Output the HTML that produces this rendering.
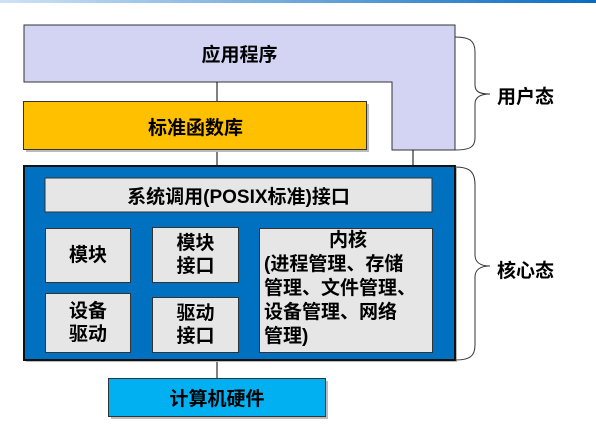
<!DOCTYPE html>
<html><head><meta charset="utf-8"><style>
body{margin:0;width:596px;height:435px;background:#fff;position:relative;overflow:hidden;font-family:"Liberation Sans","Noto Sans CJK SC",sans-serif;font-weight:bold;color:#000}
.b{position:absolute;box-sizing:border-box;display:flex;align-items:center;justify-content:center;text-align:center}
.g{background:#e6e6e6;border:1px solid #333;font-size:19px;line-height:23px}
</style></head><body>
<div style="position:absolute;left:0;top:0;width:596px;height:3px;background:linear-gradient(90deg,#cfe3f5,#0a6cc0)"></div>
<svg width="596" height="435" style="position:absolute;left:0;top:0">
<path d="M24 25H455V150H392V82H24Z" fill="#d3d3f3" stroke="#333" stroke-width="1"/>
<line x1="217" y1="82" x2="217" y2="102" stroke="#000"/>
<line x1="217" y1="150" x2="217" y2="166" stroke="#000"/>
<line x1="413" y1="150" x2="413" y2="184" stroke="#000"/>
<line x1="217" y1="362" x2="217" y2="378" stroke="#000"/>
<rect x="26" y="168" width="431" height="194" fill="#bbb"/>
<rect x="24" y="166" width="431" height="194" fill="#0070c0" stroke="#111" stroke-width="2"/>
<rect x="45" y="178" width="387" height="34" fill="#e6e6e6" stroke="#333"/>
<rect x="26" y="104" width="343" height="48" fill="#bbb"/>
<rect x="23.5" y="101.5" width="343" height="48" fill="#ffc000" stroke="#333"/>
<rect x="111" y="381" width="217" height="38" fill="#bbb"/>
<rect x="108.5" y="378.5" width="217" height="38" fill="#00b0f0" stroke="#333"/>
<path d="M455 37 C470 37 475 41 475 52 V85 C475 92 480 94 490 94 C480 94 475 97 475 104 V138 C475 147 470 150 455 150" fill="none" stroke="#333"/>
<path d="M455 167 C470 167 475 172 475 185 V255 C475 262 480 266 490 266 C480 266 475 270 475 277 V345 C475 356 470 360 455 360" fill="none" stroke="#333"/>
</svg>
<div class="b" style="left:24px;top:25px;width:431px;height:57px;font-size:19px;padding-left:0">应用程序</div>
<div class="b" style="left:24px;top:102px;width:343px;height:48px;font-size:19px">标准函数库</div>
<div class="b" style="left:108px;top:378px;width:218px;height:39px;font-size:19px">计算机硬件</div>
<div class="b" style="left:497px;top:82px;font-size:19px">用户态</div>
<div class="b" style="left:497px;top:256px;font-size:19px">核心态</div>
<div class="b" style="left:45px;top:178px;width:387px;height:34px;font-size:19px">系统调用(POSIX标准)接口</div>
<div class="b g" style="left:45px;top:228px;width:86px;height:55px">模块</div>
<div class="b g" style="left:152px;top:227px;width:87px;height:56px">模块<br>接口</div>
<div class="b g" style="left:45px;top:293px;width:86px;height:60px">设备<br>驱动</div>
<div class="b g" style="left:152px;top:297px;width:87px;height:56px">驱动<br>接口</div>
<div class="b g" style="left:259px;top:228px;width:174px;height:125px;display:block;text-align:left;padding:0 0 0 4px;font-size:19px;line-height:24px;white-space:nowrap"><div style="text-align:center">内核</div>(进程管理、存储<br>管理、文件管理、<br>设备管理、网络<br>管理)</div>
</body></html>
